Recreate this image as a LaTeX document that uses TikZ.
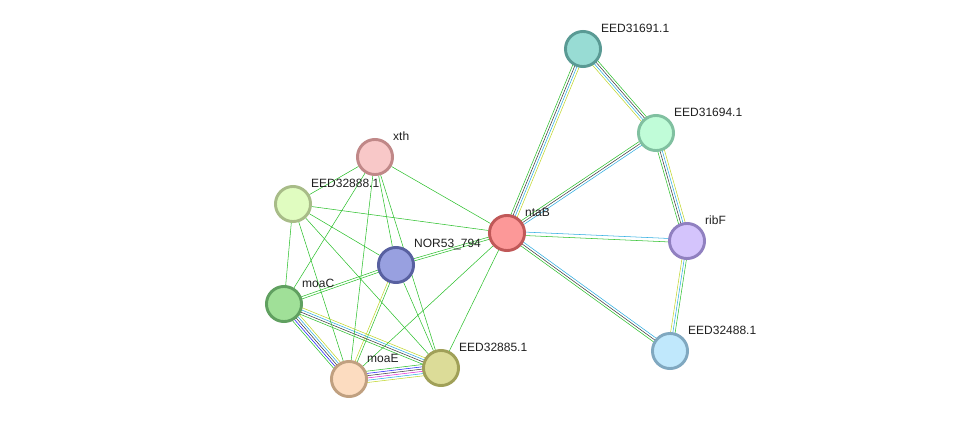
\documentclass[tikz,border=0pt]{standalone}
\usepackage{fontspec}
\setmainfont{Liberation Sans}
\usetikzlibrary{calc, backgrounds}

\definecolor{lgreen}{RGB}{44,192,44}
\definecolor{ldark}{RGB}{60,60,60}
\definecolor{lcyan}{RGB}{44,172,224}
\definecolor{lyellow}{RGB}{192,214,44}
\definecolor{lblue}{RGB}{30,30,250}
\definecolor{lmag}{RGB}{224,40,214}

% parallelle streger mellem to knuder: farve/forskydning
\newcommand{\lnk}[3]{%
  \foreach \col/\off in {#3}
    \draw[\col] ($(#1)!\off pt!90:(#2)$) -- ($(#2)!\off pt!-90:(#1)$);}

\begin{document}
\begin{tikzpicture}[
      x=0.75pt, y=-0.75pt,
      prot/.style 2 args = {circle, draw={rgb,255:#2}, fill={rgb,255:#1},
                            line width=2.2pt, minimum size=26.3pt, inner sep=0pt},
      lbl/.style  = {anchor=west, xshift=13pt, yshift=15.75pt, inner sep=0pt,
                     text=black!88, font=\fontsize{9}{11}\selectfont},
      line width=1.25pt
    ]
    \useasboundingbox (0,0) rectangle (975,425);
    % knuder
    \node[prot={red,152;green,220;blue,212}{red,90;green,154;blue,148}]  (e691) at (583,49)  {};
    \node[prot={red,192;green,252;blue,216}{red,128;green,192;blue,160}] (e694) at (656,133) {};
    \node[prot={red,212;green,196;blue,252}{red,144;green,128;blue,192}] (ribf) at (687,241) {};
    \node[prot={red,192;green,232;blue,252}{red,128;green,168;blue,192}] (e488) at (670,351) {};
    \node[prot={red,252;green,152;blue,152}{red,192;green,88;blue,88}]   (ntab) at (507,233) {};
    \node[prot={red,248;green,200;blue,200}{red,192;green,136;blue,136}] (xth)  at (375,157) {};
    \node[prot={red,224;green,252;blue,192}{red,168;green,188;blue,136}] (e888) at (293,204) {};
    \node[prot={red,152;green,160;blue,224}{red,88;green,96;blue,160}]   (nor)  at (396,265) {};
    \node[prot={red,160;green,224;blue,152}{red,96;green,160;blue,96}]   (moac) at (284,304) {};
    \node[prot={red,252;green,220;blue,192}{red,192;green,160;blue,128}] (moae) at (349,379) {};
    \node[prot={red,220;green,220;blue,152}{red,160;green,160;blue,88}]  (e885) at (441,368) {};
    % navne
    \node[lbl] (t691) at (e691) {EED31691.1};
    \node[lbl] (t694) at (e694) {EED31694.1};
    \node[lbl] (tribf) at (ribf) {ribF};
    \node[lbl] (t488) at (e488) {EED32488.1};
    \node[lbl] (tntab) at (ntab) {ntaB};
    \node[lbl] (txth) at (xth) {xth};
    \node[lbl] (t888) at (e888) {EED32888.1};
    \node[lbl] (tnor) at (nor) {NOR53\_794};
    \node[lbl] (tmoac) at (moac) {moaC};
    \node[lbl] (tmoae) at (moae) {moaE};
    \node[lbl] (t885) at (e885) {EED32885.1};
    % forbindelser
    \begin{scope}[on background layer]
      \lnk{ntab}{e691}{lgreen/2.55, ldark/0.85, lcyan/-0.85, lyellow/-2.55}
      \lnk{e691}{e694}{lgreen/2.55, ldark/0.85, lcyan/-0.85, lyellow/-2.55}
      \lnk{ntab}{e694}{lgreen/1.7, ldark/0, lcyan/-1.7}
      \lnk{e694}{ribf}{lgreen/-2.55, ldark/-0.85, lcyan/0.85, lyellow/2.55}
      \lnk{ntab}{ribf}{lcyan/1.3, lgreen/-1.3}
      \lnk{ntab}{e488}{lcyan/1.7, ldark/0, lgreen/-1.7}
      \lnk{ribf}{e488}{lgreen/1.7, lcyan/0, lyellow/-1.7}
      \lnk{nor}{ntab}{lgreen/0.85, lgreen/-0.85}
      \lnk{moac}{nor}{lgreen/0.85, lgreen/-0.85}
      \lnk{nor}{moae}{lgreen/0.85, lyellow/-0.85}
      \lnk{moac}{moae}{lyellow/3.4, lcyan/1.7, ldark/0, lblue/-1.7, lgreen/-3.4}
      \lnk{moac}{e885}{lyellow/2.55, lcyan/0.85, ldark/-0.85, lgreen/-2.55}
      \lnk{moae}{e885}{lgreen/4.25, lblue/2.55, ldark/0.85, lmag/-0.85, lcyan/-2.55, lyellow/-4.25}
      \foreach \a/\b in {xth/ntab, xth/e888, xth/moac, xth/moae, xth/nor, xth/e885,
                         e888/ntab, e888/nor, e888/e885, e888/moae, e888/moac,
                         nor/e885, moae/ntab, e885/ntab}
        \draw[lgreen] (\a) -- (\b);
    \end{scope}
  \end{tikzpicture}
\end{document}
